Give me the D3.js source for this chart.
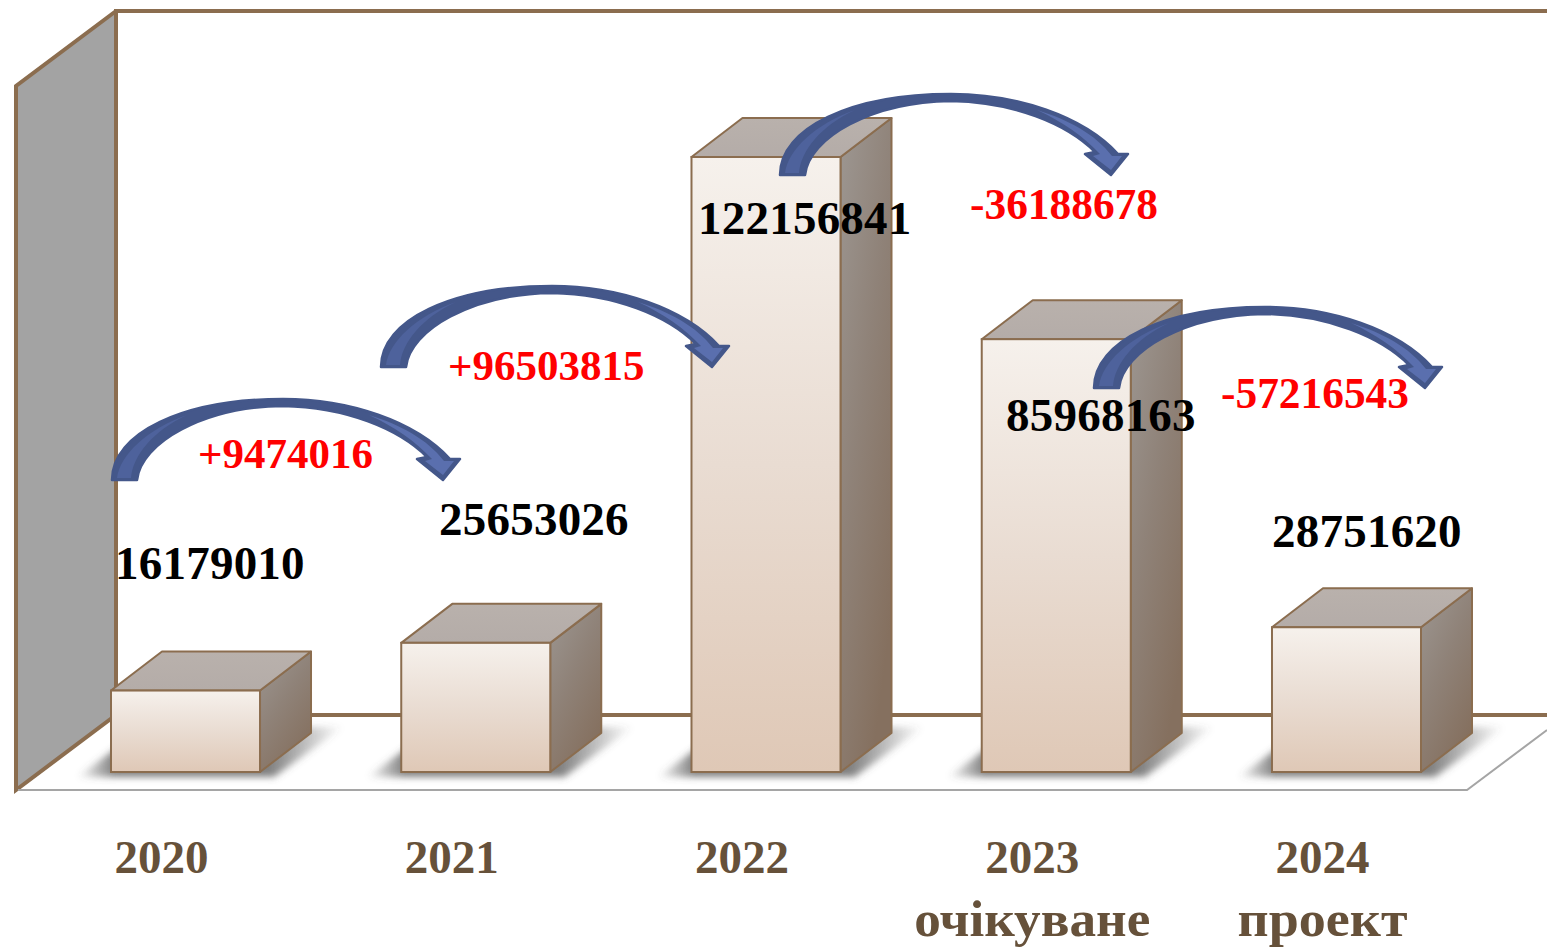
<!DOCTYPE html>
<html>
<head>
<meta charset="utf-8">
<script src="https://d3js.org/d3.v7.min.js"></script>
<style>
	body { margin: 0; background: #fff; overflow: hidden; }
	text { font-family: "Liberation Serif", serif; font-weight: bold; }
</style>
</head>
<body>
<div class="chartContainer"></div>
<script>
var years = ["2020", "2021", "2022", "2023", "2024"];
var yearNotes = ["", "", "", "очікуване", "проект"];
var values = [16179010, 25653026, 122156841, 85968163, 28751620];
var changes = [9474016, 96503815, -36188678, -57216543];

//  Layout
var width = 1547, height = 947;
var depthX = 51, depthY = 39;
var brown = "#8b6d4f";
var valueLabelPos = [[115, 579], [439, 535], [698, 234], [1006, 431], [1272, 547]];
var changeLabelPos = [[198, 468], [448, 380], [970, 219], [1221, 408]];
var arrowPos = [[111, 481], [380, 368], [779, 176], [1093, 389]];
var noteWidths = [0, 0, 0, 236, 170];

var x = d3.scaleBand().domain(years).range([111, 1421])
	.paddingInner(0.4866).paddingOuter(0);
var y = d3.scaleLinear().domain([0, d3.max(values)]).range([772, 157]);

var svg = d3.select(".chartContainer").append("svg")
	.attr("width", width).attr("height", height)
	.style("display", "block");

var defs = svg.append("defs");

function gradient(id, x2, y2, stops) {
	var g = defs.append("linearGradient").attr("id", id)
		.attr("x1", 0).attr("y1", 0).attr("x2", x2).attr("y2", y2);
	stops.forEach(function(s, i) {
		g.append("stop").attr("offset", i / (stops.length - 1)).attr("stop-color", s);
	});
}
gradient("front", 0, 1, ["#f6f1ec", "#e9dcd2", "#dfc8b6"]);
gradient("side", 0.6, 1, ["#9d9792", "#8f8278", "#85705f"]);
gradient("top", 0, 1, ["#b9b1ac", "#b4aca8"]);

var shade = defs.append("linearGradient").attr("id", "shade");
[[0, 0], [0.14, 0.75], [0.72, 0.75], [1, 0]].forEach(function(s) {
	shade.append("stop").attr("offset", s[0]).attr("stop-color", "#555").attr("stop-opacity", s[1]);
});
defs.append("filter").attr("id", "blur")
	.attr("x", "-20%").attr("y", "-40%").attr("width", "140%").attr("height", "180%")
	.append("feGaussianBlur").attr("stdDeviation", 3.5);

function poly(pts) {
	return pts.map(function(p) { return p.join(","); }).join(" ");
}

//  Walls and floor
svg.append("polygon").attr("points", poly([[16, 86], [116, 11], [116, 715], [16, 790]]))
	.attr("fill", "#a3a3a3");
svg.append("path").attr("d", "M1547,11H116V715M116,11L16,86V790L116,715H1547")
	.attr("fill", "none").attr("stroke", brown).attr("stroke-width", 4);
svg.append("path").attr("d", "M18,790H1467L1547,730")
	.attr("fill", "none").attr("stroke", "#a5a5a5").attr("stroke-width", 2);

//  Bars
var bars = svg.selectAll("g.bar").data(values).enter().append("g").attr("class", "bar");

bars.append("polygon").attr("filter", "url(#blur)").attr("fill", "url(#shade)")
	.attr("points", function(d, i) {
		var x0 = x(years[i]), x1 = x0 + x.bandwidth();
		return poly([[x0 - 34, 777], [x0 + 10, 745], [x1 + depthX, 727], [x1 + depthX + 32, 727], [x1 + 14, 777]]);
	});

bars.append("polygon").attr("fill", "url(#side)").attr("stroke", brown).attr("stroke-width", 2)
	.attr("stroke-linejoin", "round")
	.attr("points", function(d, i) {
		var x1 = x(years[i]) + x.bandwidth();
		return poly([[x1, y(d)], [x1 + depthX, y(d) - depthY], [x1 + depthX, y(0) - depthY], [x1, y(0)]]);
	});

bars.append("polygon").attr("fill", "url(#top)").attr("stroke", brown).attr("stroke-width", 2)
	.attr("stroke-linejoin", "round")
	.attr("points", function(d, i) {
		var x0 = x(years[i]), x1 = x0 + x.bandwidth();
		return poly([[x0, y(d)], [x0 + depthX, y(d) - depthY], [x1 + depthX, y(d) - depthY], [x1, y(d)]]);
	});

bars.append("rect").attr("fill", "url(#front)").attr("stroke", brown).attr("stroke-width", 2)
	.attr("x", function(d, i) { return x(years[i]); })
	.attr("y", function(d) { return y(d); })
	.attr("width", x.bandwidth())
	.attr("height", function(d) { return y(0) - y(d); });

//  Curved arrows
var arrowOuter = "M1,-1C1,-48 72,-82 172,-82C238,-82 304,-60 339,-22L349,-22L332,-1L306,-22L316,-24"
	+ "C288,-52 235,-74 172,-75C92,-74 30,-38 26,-1Z";
var arrowTail = "M6,-3C9,-26 36,-52 76,-66C42,-50 22,-26 20,-3Z";
var arrowHead = "M258,-66C290,-56 316,-42 333,-20L343,-20L332,-6L314,-20L321,-22C304,-40 284,-54 258,-66Z";

var arrows = svg.selectAll("g.arrow").data(changes).enter().append("g").attr("class", "arrow")
	.attr("transform", function(d, i) { return "translate(" + arrowPos[i] + ")"; });
arrows.append("path").attr("d", arrowOuter).attr("fill", "#44578a")
	.attr("stroke", "#44578a").attr("stroke-width", 2.5).attr("stroke-linejoin", "round");
arrows.append("path").attr("d", arrowTail).attr("fill", "#4e629c");
arrows.append("path").attr("d", arrowHead).attr("fill", "#5a6fae");

//  Labels
svg.selectAll("text.value").data(values).enter().append("text").attr("class", "value")
	.attr("x", function(d, i) { return valueLabelPos[i][0]; })
	.attr("y", function(d, i) { return valueLabelPos[i][1]; })
	.attr("font-size", 47).attr("fill", "#000")
	.attr("textLength", function(d) { return String(d).length * 23.7; })
	.text(function(d) { return d; });

svg.selectAll("text.change").data(changes).enter().append("text").attr("class", "change")
	.attr("x", function(d, i) { return changeLabelPos[i][0]; })
	.attr("y", function(d, i) { return changeLabelPos[i][1]; })
	.attr("font-size", function(d) { return d > 0 ? 43 : 43.4; }).attr("fill", "#ff0000")
	.text(function(d) { return d > 0 ? "+" + d : "" + d; });

//  Category axis, shifted left of the bars as in the 3D projection
var axis = svg.append("g").attr("transform", "translate(-24,873)")
	.call(d3.axisBottom(x).tickSize(0).tickPadding(0));
axis.select(".domain").remove();
axis.selectAll(".tick text").attr("font-size", 47).attr("fill", "#66513a")
	.attr("font-family", "Liberation Serif").attr("dy", 0).attr("y", 0);
axis.selectAll(".tick").filter(function(d, i) { return yearNotes[i] !== ""; }).append("text")
	.attr("y", 63).attr("fill", "#66513a").attr("font-size", 50)
	.attr("font-family", "Liberation Serif").attr("text-anchor", "middle")
	.attr("textLength", function(d) { return noteWidths[years.indexOf(d)]; })
	.attr("lengthAdjust", "spacingAndGlyphs")
	.text(function(d) { return yearNotes[years.indexOf(d)]; });
</script>
</body>
</html>
